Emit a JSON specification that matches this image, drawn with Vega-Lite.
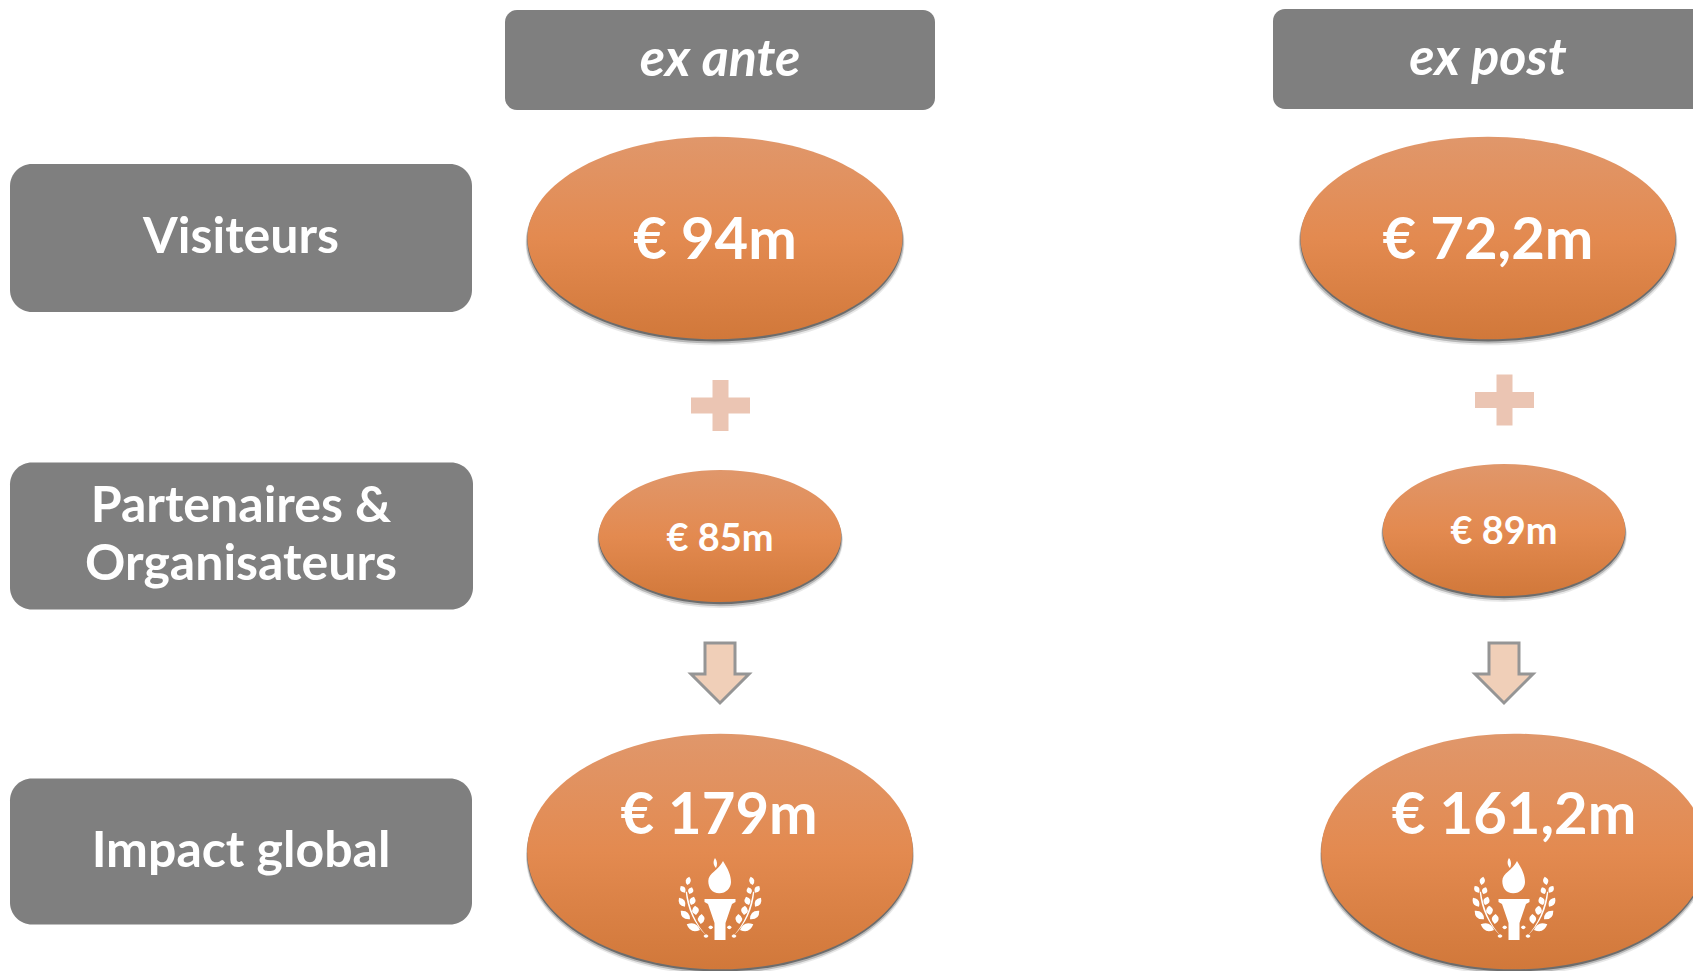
{
"$schema":"https://vega.github.io/schema/vega-lite/v6.json",
"width":1693,"height":971,"autosize":"none","padding":0,"background":"#ffffff",
"config":{"view":{"stroke":null},"axis":{"disable":true}},
"datasets":{
"boxes":[
{"name":"ex ante","x":505,"x2":935,"y":10,"y2":110,"kind":"head"},
{"name":"ex post","x":1273,"x2":1720,"y":9,"y2":109,"kind":"head"},
{"name":"Visiteurs","x":10,"x2":472,"y":164,"y2":312,"kind":"row"},
{"name":"Partenaires & Organisateurs","x":10,"x2":473,"y":462.5,"y2":609.5,"kind":"row"},
{"name":"Impact global","x":10,"x2":472,"y":778.5,"y2":924.5,"kind":"row"}],
"large":[{"x":715,"y":238,"period":"ex ante"},{"x":1488,"y":238,"period":"ex post"}],
"small":[{"x":720,"y":536,"period":"ex ante"},{"x":1504,"y":530,"period":"ex post"}],
"total":[{"x":720,"y":851.5,"period":"ex ante"},{"x":1514,"y":851.5,"period":"ex post"}],
"plus":[{"x":720.5,"y":405.5,"period":"ex ante"},{"x":1504.5,"y":400,"period":"ex post"}],
"arrows":[{"x":720,"y":643,"period":"ex ante"},{"x":1504,"y":643,"period":"ex post"}],
"icons":[{"x":720,"y":900,"period":"ex ante"},{"x":1514,"y":900,"period":"ex post"}],
"headText":[{"t":"ex ante","x":720,"y":60},{"t":"ex post","x":1488,"y":59}],
"rowText":[{"t":"Visiteurs","x":241,"y":238},{"t":"Partenaires &","x":241,"y":507},{"t":"Organisateurs","x":241,"y":565},{"t":"Impact global","x":241,"y":852}],
"bigText":[{"t":"€ 94m","x":715,"y":242},{"t":"€ 72,2m","x":1488,"y":242},{"t":"€ 179m","x":719,"y":817},{"t":"€ 161,2m","x":1514,"y":817}],
"smallText":[{"t":"€ 85m","x":720,"y":540},{"t":"€ 89m","x":1504,"y":533}]
},
"encoding":{
"x":{"field":"x","type":"quantitative","scale":{"domain":[0,1693],"nice":false,"zero":false},"axis":null},
"y":{"field":"y","type":"quantitative","scale":{"domain":[971,0],"nice":false,"zero":false},"axis":null}
},
"layer":[
{"data":{"name":"boxes"},"transform":[{"filter":"datum.kind=='head'"}],"mark":{"type":"rect","fill":"#7f7f7f","cornerRadius":12},"encoding":{"x2":{"field":"x2"},"y2":{"field":"y2"}}},
{"data":{"name":"boxes"},"transform":[{"filter":"datum.kind=='row'"}],"mark":{"type":"rect","fill":"#7f7f7f","cornerRadius":22},"encoding":{"x2":{"field":"x2"},"y2":{"field":"y2"}}},

{"data":{"name":"large"},"mark":{"type":"point","filled":true,"opacity":0.1,"fill":"#222222","stroke":null,"yOffset":5,"size":143500,"shape":"M-1,0C-1,-0.298 -0.552,-0.54 0,-0.54C0.552,-0.54 1,-0.298 1,0C1,0.298 0.552,0.54 0,0.54C-0.552,0.54 -1,0.298 -1,0Z"}},
{"data":{"name":"large"},"mark":{"type":"point","filled":true,"opacity":0.25,"fill":"#222222","stroke":null,"yOffset":3.5,"size":142500,"shape":"M-1,0C-1,-0.298 -0.552,-0.54 0,-0.54C0.552,-0.54 1,-0.298 1,0C1,0.298 0.552,0.54 0,0.54C-0.552,0.54 -1,0.298 -1,0Z"}},
{"data":{"name":"large"},"mark":{"type":"point","filled":true,"opacity":0.5,"fill":"#222222","stroke":null,"yOffset":2,"size":141000,"shape":"M-1,0C-1,-0.298 -0.552,-0.54 0,-0.54C0.552,-0.54 1,-0.298 1,0C1,0.298 0.552,0.54 0,0.54C-0.552,0.54 -1,0.298 -1,0Z"}},
{"data":{"name":"large"},"mark":{"type":"point","filled":true,"opacity":1,"stroke":null,"size":140600,"shape":"M-1,0C-1,-0.298 -0.552,-0.54 0,-0.54C0.552,-0.54 1,-0.298 1,0C1,0.298 0.552,0.54 0,0.54C-0.552,0.54 -1,0.298 -1,0Z","fill":{"gradient":"linear","x1":0,"y1":0,"x2":0,"y2":1,"stops":[{"offset":0,"color":"#e0976b"},{"offset":0.5,"color":"#e38a50"},{"offset":1,"color":"#d1783a"}]}}},

{"data":{"name":"small"},"mark":{"type":"point","filled":true,"opacity":0.1,"fill":"#222222","stroke":null,"yOffset":5,"size":60300,"shape":"M-1,0C-1,-0.3 -0.552,-0.545 0,-0.545C0.552,-0.545 1,-0.3 1,0C1,0.3 0.552,0.545 0,0.545C-0.552,0.545 -1,0.3 -1,0Z"}},
{"data":{"name":"small"},"mark":{"type":"point","filled":true,"opacity":0.25,"fill":"#222222","stroke":null,"yOffset":3.5,"size":59800,"shape":"M-1,0C-1,-0.3 -0.552,-0.545 0,-0.545C0.552,-0.545 1,-0.3 1,0C1,0.3 0.552,0.545 0,0.545C-0.552,0.545 -1,0.3 -1,0Z"}},
{"data":{"name":"small"},"mark":{"type":"point","filled":true,"opacity":0.5,"fill":"#222222","stroke":null,"yOffset":2,"size":59000,"shape":"M-1,0C-1,-0.3 -0.552,-0.545 0,-0.545C0.552,-0.545 1,-0.3 1,0C1,0.3 0.552,0.545 0,0.545C-0.552,0.545 -1,0.3 -1,0Z"}},
{"data":{"name":"small"},"mark":{"type":"point","filled":true,"opacity":1,"stroke":null,"size":58800,"shape":"M-1,0C-1,-0.3 -0.552,-0.545 0,-0.545C0.552,-0.545 1,-0.3 1,0C1,0.3 0.552,0.545 0,0.545C-0.552,0.545 -1,0.3 -1,0Z","fill":{"gradient":"linear","x1":0,"y1":0,"x2":0,"y2":1,"stops":[{"offset":0,"color":"#e0976b"},{"offset":0.5,"color":"#e38a50"},{"offset":1,"color":"#d1783a"}]}}},

{"data":{"name":"total"},"mark":{"type":"point","filled":true,"opacity":0.1,"fill":"#222222","stroke":null,"yOffset":5,"size":150500,"shape":"M-1,0C-1,-0.337 -0.552,-0.611 0,-0.611C0.552,-0.611 1,-0.337 1,0C1,0.337 0.552,0.611 0,0.611C-0.552,0.611 -1,0.337 -1,0Z"}},
{"data":{"name":"total"},"mark":{"type":"point","filled":true,"opacity":0.25,"fill":"#222222","stroke":null,"yOffset":3.5,"size":149800,"shape":"M-1,0C-1,-0.337 -0.552,-0.611 0,-0.611C0.552,-0.611 1,-0.337 1,0C1,0.337 0.552,0.611 0,0.611C-0.552,0.611 -1,0.337 -1,0Z"}},
{"data":{"name":"total"},"mark":{"type":"point","filled":true,"opacity":0.5,"fill":"#222222","stroke":null,"yOffset":2,"size":149000,"shape":"M-1,0C-1,-0.337 -0.552,-0.611 0,-0.611C0.552,-0.611 1,-0.337 1,0C1,0.337 0.552,0.611 0,0.611C-0.552,0.611 -1,0.337 -1,0Z"}},
{"data":{"name":"total"},"mark":{"type":"point","filled":true,"opacity":1,"stroke":null,"size":148800,"shape":"M-1,0C-1,-0.337 -0.552,-0.611 0,-0.611C0.552,-0.611 1,-0.337 1,0C1,0.337 0.552,0.611 0,0.611C-0.552,0.611 -1,0.337 -1,0Z","fill":{"gradient":"linear","x1":0,"y1":0,"x2":0,"y2":1,"stops":[{"offset":0,"color":"#e0976b"},{"offset":0.5,"color":"#e38a50"},{"offset":1,"color":"#d1783a"}]}}},

{"data":{"name":"plus"},"mark":{"type":"point","filled":true,"opacity":1,"fill":"#ebc5b3","stroke":null,"size":4,"shape":"M-8,-25.5L8,-25.5L8,-8L29.5,-8L29.5,8L8,8L8,25.5L-8,25.5L-8,8L-29.5,8L-29.5,-8L-8,-8Z"}},
{"data":{"name":"arrows"},"mark":{"type":"point","filled":true,"opacity":1,"fill":"#f0cfb8","stroke":"#959595","strokeWidth":3,"size":4,"shape":"M-15,0L15,0L15,31L29,31L0,60L-29,31L-15,31Z"}},

{"data":{"name":"icons"},"mark":{"type":"point","filled":true,"opacity":1,"fill":"#ffffff","stroke":null,"size":4,"shape":"M-0.7,-6.7C-8,-6.7 -11.7,-12 -11.7,-19C-11.7,-27 -1,-30 3,-39C8,-31 11,-25 11,-18C11,-12 6,-6.7 -0.7,-6.7ZM-5,-42C-7,-39 -7,-35 -4,-32C-2.5,-35 -2.5,-39 -5,-42ZM-15.5,-1L15.5,-1L15.5,2L12,4L5.5,23L5.5,40L-5.5,40L-5.5,23L-12,4L-15.5,2ZM-32.7,-15Q-26.6,-18 -30.7,-23.3Q-36.8,-20.4 -32.7,-15ZM-35,-7.3Q-32.8,-13.6 -39.3,-14Q-41.6,-7.8 -35,-7.3ZM-30.7,-6Q-24.3,-7.3 -28,-12.7Q-34.3,-11.3 -30.7,-6ZM-35,6.7Q-33,-1.1 -41,-2.3Q-43,5.5 -35,6.7ZM-29,5Q-21.8,2.9 -26,-3.3Q-33.2,-1.3 -29,5ZM-30,19.3Q-30,10 -39.3,10.7Q-39.4,20 -30,19.3ZM-24,15Q-17.7,9.5 -25,5.7Q-31.3,11.1 -24,15ZM-20,30Q-23.7,20.3 -33.3,24.3Q-29.7,34.1 -20,30ZM-19.3,24Q-12,19.6 -18.3,14Q-25.6,18.4 -19.3,24ZM-11.8,27.3Q-9.3,23.5 -6.8,27.3Q-9.3,31 -11.8,27.3ZM-16.5,36Q-14,32.3 -11.5,36Q-14,39.7 -16.5,36ZM-34.3,-8.3Q-32,18 -13.3,36Q-29.3,18 -33,-8.3ZM32.7,-15Q26.6,-18 30.7,-23.3Q36.8,-20.4 32.7,-15ZM35,-7.3Q32.8,-13.6 39.3,-14Q41.6,-7.8 35,-7.3ZM30.7,-6Q24.3,-7.3 28,-12.7Q34.3,-11.3 30.7,-6ZM35,6.7Q33,-1.1 41,-2.3Q43,5.5 35,6.7ZM29,5Q21.8,2.9 26,-3.3Q33.2,-1.3 29,5ZM30,19.3Q30,10 39.3,10.7Q39.4,20 30,19.3ZM24,15Q17.7,9.5 25,5.7Q31.3,11.1 24,15ZM20,30Q23.7,20.3 33.3,24.3Q29.7,34.1 20,30ZM19.3,24Q12,19.6 18.3,14Q25.6,18.4 19.3,24ZM11.8,27.3Q9.3,23.5 6.8,27.3Q9.3,31 11.8,27.3ZM16.5,36Q14,32.3 11.5,36Q14,39.7 16.5,36ZM34.3,-8.3Q32,18 13.3,36Q29.3,18 33,-8.3Z"}},

{"data":{"name":"headText"},"mark":{"type":"text","font":"Lato","fontWeight":"bold","fontStyle":"italic","fontSize":52,"fill":"#ffffff","align":"center","baseline":"middle"},"encoding":{"text":{"field":"t"}}},
{"data":{"name":"rowText"},"mark":{"type":"text","font":"Lato","fontWeight":"bold","fontSize":50,"fill":"#ffffff","align":"center","baseline":"middle"},"encoding":{"text":{"field":"t"}}},
{"data":{"name":"bigText"},"mark":{"type":"text","font":"Lato","fontWeight":"bold","fontSize":58,"fill":"#ffffff","align":"center","baseline":"middle"},"encoding":{"text":{"field":"t"}}},
{"data":{"name":"smallText"},"mark":{"type":"text","font":"Lato","fontWeight":"bold","fontSize":38,"fill":"#ffffff","align":"center","baseline":"middle"},"encoding":{"text":{"field":"t"}}}
]
}
